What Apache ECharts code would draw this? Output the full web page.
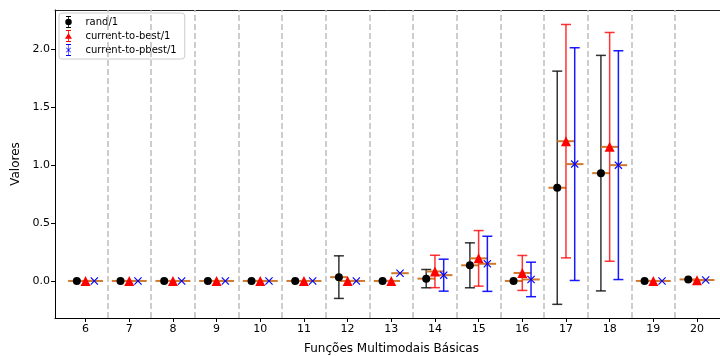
<!DOCTYPE html>
<html>
<head>
<meta charset="utf-8">
<script src="https://cdn.jsdelivr.net/npm/echarts@6/dist/echarts.min.js"></script>
<style>
html,body{margin:0;padding:0;background:#fff;}
#chart{width:720px;height:356px;}
</style>
</head>
<body>
<div id="chart"></div>
<script>
// ---- data ----
var categories = [6, 7, 8, 9, 10, 11, 12, 13, 14, 15, 16, 17, 18, 19, 20];
var seriesNames = ['rand/1', 'current-to-best/1', 'current-to-pbest/1'];
var randMean  = [0, 0, 0, 0, 0, 0, 0.033, 0, 0.020, 0.135, 0, 0.805, 0.931, 0, 0.013];
var randStd   = [0, 0, 0, 0, 0, 0, 0.184, 0, 0.079, 0.194, 0, 1.007, 1.017, 0, 0];
var bestMean  = [0, 0, 0, 0, 0, 0, 0, 0, 0.082, 0.195, 0.069, 1.207, 1.158, 0, 0.005];
var bestStd   = [0, 0, 0, 0, 0, 0, 0, 0, 0.140, 0.240, 0.151, 1.008, 0.988, 0, 0];
var pbestMean = [0, 0, 0, 0, 0, 0, 0, 0.067, 0.050, 0.148, 0.013, 1.009, 1.000, 0, 0.008];
var pbestStd  = [0, 0, 0, 0, 0, 0, 0, 0, 0.138, 0.238, 0.149, 1.005, 0.988, 0, 0];
var yTicks = [0, 0.5, 1.0, 1.5, 2.0];

// ---- styling ----
var offsets = [-0.2, 0, 0.2];
var halfW = 0.2;
var barColors = ['rgba(0,0,0,0.8)', 'rgba(255,0,0,0.8)', 'rgba(0,0,255,0.9)'];
var markColors = ['#000000', '#ff0000', '#0000ff'];
var medianColor = '#d0782c';
var xPath = 'path://M0,1 L1,0 L5,4 L9,0 L10,1 L6,5 L10,9 L9,10 L5,6 L1,10 L0,9 L4,5 Z';
var markSymbols = ['circle', 'triangle', xPath];
var markSizes = [8, 10, 8];
var legendIcons = [
  'path://M5,0 H15 V2 H5 Z M5,22 H15 V24 H5 Z M9.2,0 H10.8 V24 H9.2 Z M3.5,12 A6.5,6.5 0 1,1 16.5,12 A6.5,6.5 0 1,1 3.5,12 Z',
  'path://M5,0 H15 V2 H5 Z M5,22 H15 V24 H5 Z M9.2,0 H10.8 V24 H9.2 Z M3,17.5 L10,6 L17,17.5 Z',
  'path://M5,0 H15 V2 H5 Z M5,22 H15 V24 H5 Z M9.4,0 H10.6 V24 H9.4 Z M5,8 L6,7 L10,11 L14,7 L15,8 L11,12 L15,16 L14,17 L10,13 L6,17 L5,16 L9,12 Z'
];

var means = [randMean, bestMean, pbestMean];
var stds = [randStd, bestStd, pbestStd];

var series = [];
for (var s = 0; s < 3; s++) {
  (function (s) {
    var d = categories.map(function (c, i) { return [c + offsets[s], means[s][i], stds[s][i]]; });
    series.push({
      type: 'custom',
      name: seriesNames[s] + '_bars',
      data: d,
      z: 2 + s,
      silent: true,
      renderItem: function (params, api) {
        var x = api.value(0), m = api.value(1), sd = api.value(2);
        var top = api.coord([x, m + sd]);
        var bot = api.coord([x, m - sd]);
        var ml = api.coord([x - halfW, m]);
        var mr = api.coord([x + halfW, m]);
        var children = [];
        if (sd > 0) {
          var st = { stroke: barColors[s], lineWidth: 1.5 };
          children.push({ type: 'line', shape: { x1: top[0], y1: top[1], x2: bot[0], y2: bot[1] }, style: st });
          children.push({ type: 'line', shape: { x1: top[0] - 5, y1: top[1], x2: top[0] + 5, y2: top[1] }, style: st });
          children.push({ type: 'line', shape: { x1: bot[0] - 5, y1: bot[1], x2: bot[0] + 5, y2: bot[1] }, style: st });
        }
        children.push({ type: 'line', shape: { x1: ml[0], y1: ml[1], x2: mr[0], y2: mr[1] }, style: { stroke: medianColor, lineWidth: 2 } });
        return { type: 'group', children: children };
      }
    });
    series.push({
      type: 'scatter',
      name: seriesNames[s],
      data: categories.map(function (c, i) { return [c + offsets[s], means[s][i]]; }),
      symbol: markSymbols[s],
      symbolSize: markSizes[s],
      itemStyle: { color: markColors[s], opacity: 1 },
      z: 10 + s,
      silent: true
    });
  })(s);
}

// dashed separators between categories
series.push({
  type: 'line',
  name: 'sep',
  data: [],
  silent: true,
  markLine: {
    silent: true,
    symbol: ['none', 'none'],
    label: { show: false },
    lineStyle: { color: '#bdbdbd', type: [6, 3], width: 1.5 },
    data: categories.slice(0, categories.length - 1).map(function (c) { return { xAxis: c + 0.5 }; })
  }
});

var xMin = 5.3, xMax = 20.71;
var chart = echarts.init(document.getElementById('chart'), null, { renderer: 'canvas' });
chart.setOption({
  animation: false,
  backgroundColor: '#ffffff',
  textStyle: { fontFamily: 'DejaVu Sans' },
  grid: { left: 55, top: 10, width: 673, height: 308, show: false, containLabel: false, outerBoundsMode: 'none' },
  legend: {
    left: 59, top: 13,
    orient: 'vertical',
    itemWidth: 10, itemHeight: 12, itemGap: 2,
    padding: [3, 8, 3, 6],
    borderColor: '#cccccc', borderWidth: 1, borderRadius: 3,
    backgroundColor: 'rgba(255,255,255,0.8)',
    textStyle: { fontSize: 10, color: '#000', fontFamily: 'DejaVu Sans', padding: [0, 0, 0, 7] },
    data: seriesNames.map(function (n, i) { return { name: n, icon: legendIcons[i], itemStyle: { color: markColors[i] } }; })
  },
  xAxis: [{
    type: 'value',
    min: xMin, max: xMax,
    name: 'Funções Multimodais Básicas',
    nameLocation: 'middle',
    nameGap: 25,
    nameTextStyle: { fontSize: 12, color: '#000', fontFamily: 'DejaVu Sans' },
    axisLine: { show: true, onZero: false, lineStyle: { color: '#000', width: 1 } },
    axisTick: { show: true, customValues: categories, length: 4, lineStyle: { color: '#000' } },
    axisLabel: { customValues: categories, fontSize: 11, color: '#000', margin: 6, fontFamily: 'DejaVu Sans' },
    splitLine: { show: false }
  }, {
    type: 'value',
    position: 'top',
    min: xMin, max: xMax,
    axisLine: { show: true, onZero: false, lineStyle: { color: '#222', width: 1 } },
    axisTick: { show: false },
    axisLabel: { show: false },
    splitLine: { show: false }
  }],
  yAxis: {
    type: 'value',
    min: -0.32, max: 2.34,
    name: 'Valores',
    nameLocation: 'middle',
    nameGap: 27,
    nameTextStyle: { fontSize: 12, color: '#000', fontFamily: 'DejaVu Sans' },
    axisLine: { show: true, onZero: false, lineStyle: { color: '#000', width: 1 } },
    axisTick: { show: true, customValues: yTicks, length: 4, lineStyle: { color: '#000' } },
    axisLabel: { customValues: yTicks, fontSize: 11, color: '#000', margin: 5, fontFamily: 'DejaVu Sans',
      formatter: function (v) { return v.toFixed(1); } },
    splitLine: { show: false }
  },
  series: series
});
</script>
</body>
</html>
